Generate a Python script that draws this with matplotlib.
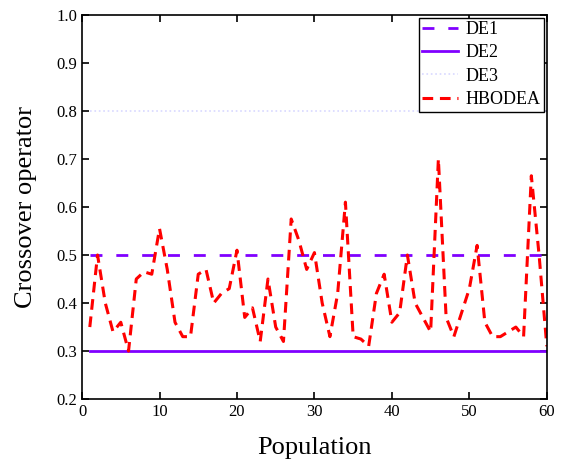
import matplotlib
matplotlib.use('Agg')
import matplotlib.pyplot as plt
import numpy as np

plt.rcParams['font.family'] = ['Liberation Serif', 'DejaVu Serif']

population = np.arange(1, 61)
de1 = [0.5] * 60
de2 = [0.3] * 60
de3 = [0.8] * 60
hbodea = [0.35, 0.50, 0.40, 0.34, 0.36, 0.30, 0.45, 0.465, 0.46, 0.555,
          0.47, 0.36, 0.33, 0.33, 0.46, 0.47, 0.40, 0.42, 0.43, 0.51,
          0.37, 0.39, 0.32, 0.45, 0.35, 0.32, 0.575, 0.53, 0.47, 0.505,
          0.40, 0.33, 0.42, 0.61, 0.33, 0.325, 0.31, 0.42, 0.46, 0.36,
          0.38, 0.50, 0.40, 0.37, 0.34, 0.70, 0.37, 0.33, 0.38, 0.43,
          0.52, 0.36, 0.33, 0.33, 0.34, 0.35, 0.33, 0.665, 0.50, 0.31]

fig = plt.figure(figsize=(5.62, 4.63), dpi=100)
ax = fig.add_axes([0.146, 0.138, 0.827, 0.830])

purple = '#8000ff'
ax.plot(population, de1, color=purple, lw=2, dashes=(4.3, 5), label='DE1')
ax.plot(population, de2, color=purple, lw=2, label='DE2')
ax.plot(population, de3, color='#d8d8ff', lw=1.2, linestyle=':', label='DE3')
ax.plot(population, hbodea, color='red', lw=2.2, dashes=(3.5, 2.2), label='HBODEA')

ax.set_xlim(0, 60)
ax.set_ylim(0.2, 1.0)
ax.set_xticks(range(0, 61, 10))
ax.set_yticks(np.arange(0.2, 1.01, 0.1))
ax.set_yticklabels(['0.2', '0.3', '0.4', '0.5', '0.6', '0.7', '0.8', '0.9', '1.0'])
ax.tick_params(direction='in', top=True, right=True, length=5, width=1.2,
               labelsize=12)
for s in ax.spines.values():
    s.set_linewidth(1.2)

ax.set_xlabel('Population', fontsize=19, labelpad=12)
ax.set_ylabel('Crossover operator', fontsize=19, labelpad=14)

leg = ax.legend(loc='upper right', fontsize=13, frameon=True, fancybox=False,
                borderaxespad=0.15, handlelength=2.0, labelspacing=0.35,
                borderpad=0.2, handletextpad=0.4)
leg.get_frame().set_edgecolor('black')
leg.get_frame().set_linewidth(1.0)
leg.get_frame().set_alpha(1)

fig.savefig('out.png', dpi=100)
